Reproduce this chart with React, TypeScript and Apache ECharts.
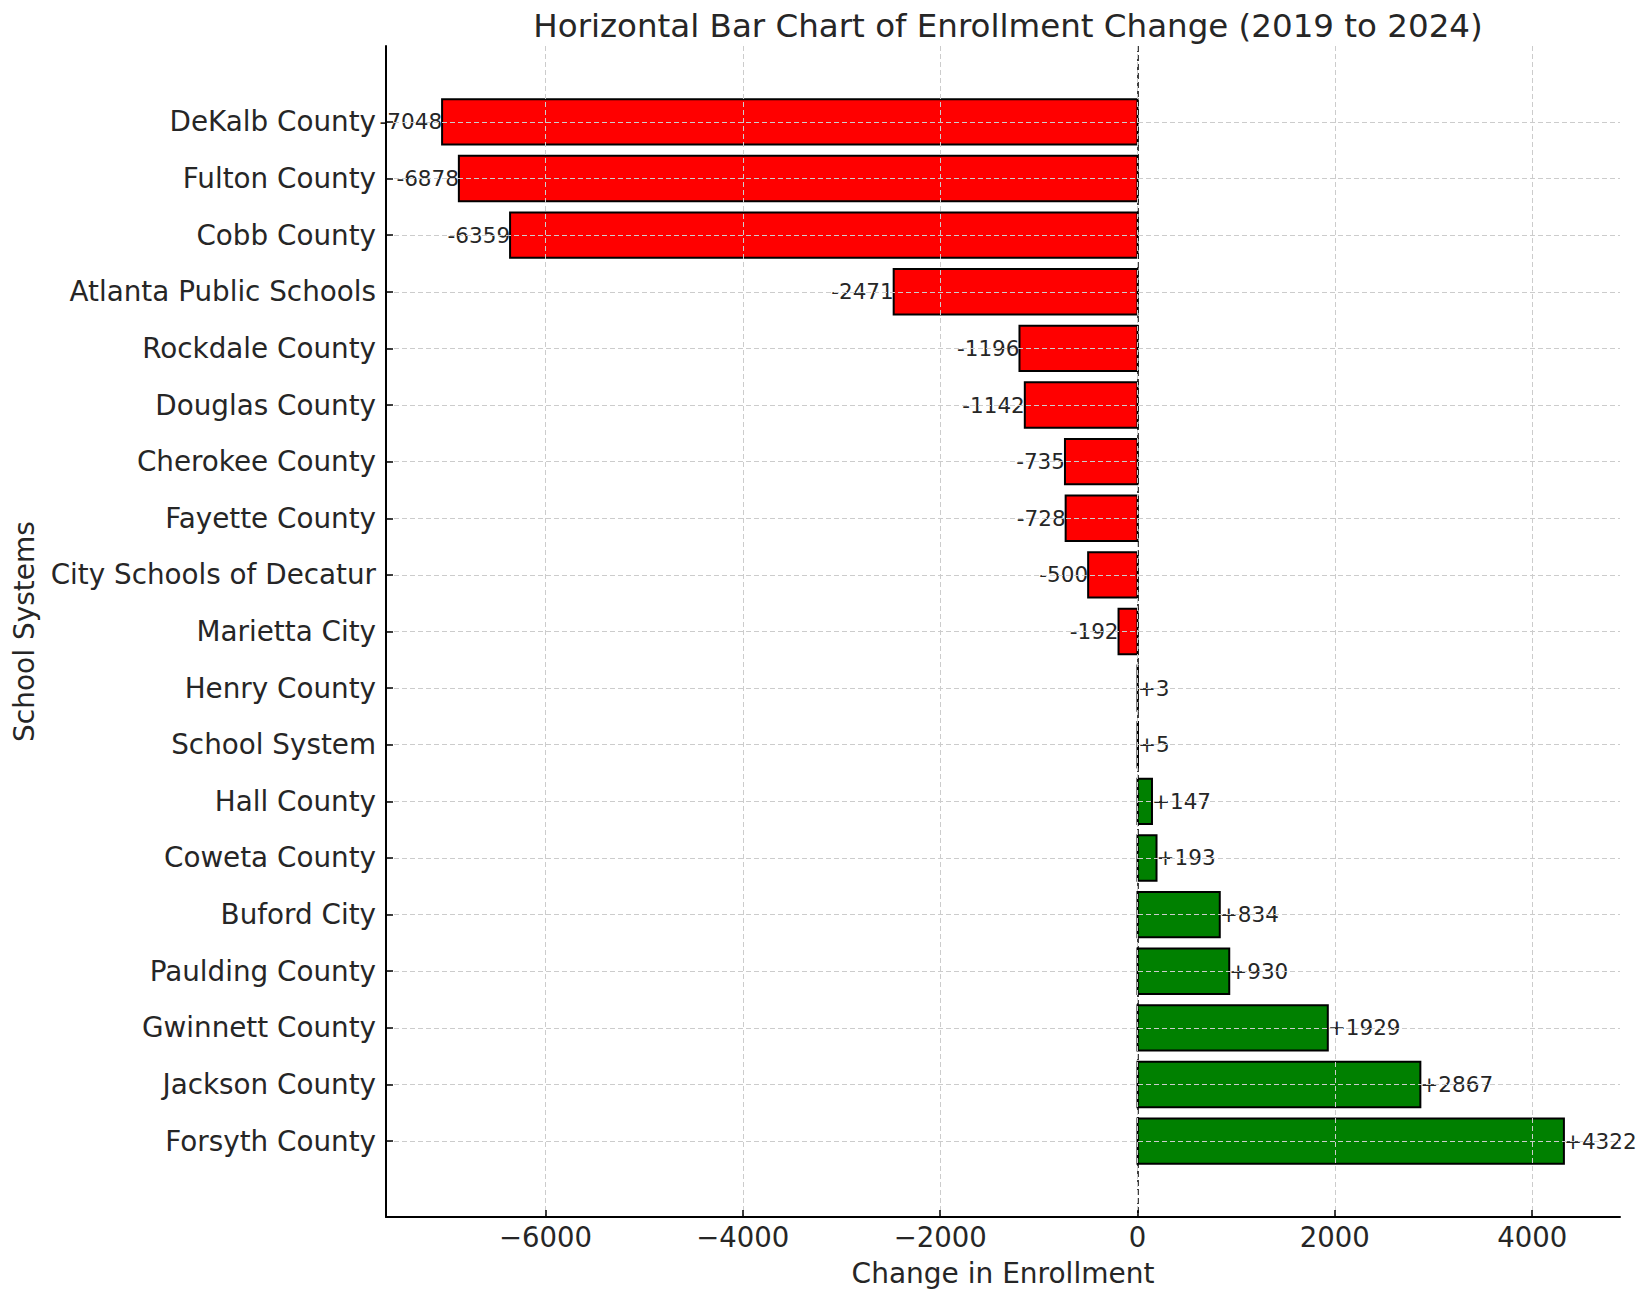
import React, { useEffect, useRef } from "react";
import * as echarts from "echarts";

const categories: string[] = [
  "DeKalb County",
  "Fulton County",
  "Cobb County",
  "Atlanta Public Schools",
  "Rockdale County",
  "Douglas County",
  "Cherokee County",
  "Fayette County",
  "City Schools of Decatur",
  "Marietta City",
  "Henry County",
  "School System",
  "Hall County",
  "Coweta County",
  "Buford City",
  "Paulding County",
  "Gwinnett County",
  "Jackson County",
  "Forsyth County",
];

const changes: number[] = [
  -7048, -6878, -6359, -2471, -1196, -1142, -735, -728, -500, -192, 3, 5, 147, 193, 834, 930, 1929, 2867, 4322,
];

const xTickValues: number[] = [-6000, -4000, -2000, 0, 2000, 4000];

const titleText = "Horizontal Bar Chart of Enrollment Change (2019 to 2024)";
const xAxisTitle = "Change in Enrollment";
const yAxisTitle = "School Systems";

const FONT = "DejaVu Sans";
const TEXT = "#262626";

export default function App() {
  const ref = useRef<HTMLDivElement>(null);

  useEffect(() => {
    document.body.style.margin = "0";
    if (!ref.current) return;
    const chart = echarts.init(ref.current, null, { renderer: "svg" });

    const dataMin = Math.min(...changes);
    const dataMax = Math.max(...changes);
    const span = dataMax - dataMin;
    const xMin = dataMin - span * 0.05;
    const xMax = dataMax + span * 0.05;
    const barH = 0.8;
    const ySpanLo = -barH / 2;
    const ySpanHi = categories.length - 1 + barH / 2;
    const ySpan = ySpanHi - ySpanLo;
    const yMin = ySpanLo - ySpan * 0.05;
    const yMax = ySpanHi + ySpan * 0.05;
    const yIdx = categories.map((_, i) => i);

    const option: any = {
      animation: false,
      backgroundColor: "#ffffff",
      title: {
        text: titleText,
        left: 1003,
        top: 4,
        textAlign: "center",
        textStyle: { fontFamily: FONT, fontSize: 32.5, fontWeight: "normal", color: TEXT },
      },
      grid: { left: 386, right: 32, top: 46, bottom: 71, containLabel: false },
      xAxis: {
        type: "value",
        min: xMin,
        max: xMax,
        z: 10,
        name: xAxisTitle,
        nameLocation: "middle",
        nameGap: 42,
        nameTextStyle: { fontFamily: FONT, fontSize: 28, color: TEXT },
        axisLine: { show: true, onZero: false, lineStyle: { color: "#000", width: 2 } },
        axisTick: {
          show: true,
          inside: true,
          length: 7,
          customValues: xTickValues,
          lineStyle: { color: "#000", width: 1.5 },
        },
        axisLabel: {
          customValues: xTickValues,
          margin: 6,
          fontFamily: FONT,
          fontSize: 27.5,
          color: TEXT,
          formatter: (v: number) => (v < 0 ? "\u2212" + Math.abs(v) : String(v)),
        },
        splitLine: { show: true, lineStyle: { color: "#cccccc", width: 1, type: [5, 3] } },
      },
      yAxis: {
        type: "value",
        min: yMin,
        max: yMax,
        inverse: true,
        z: 10,
        name: yAxisTitle,
        nameLocation: "middle",
        nameGap: 348,
        nameTextStyle: { fontFamily: FONT, fontSize: 28, color: TEXT },
        axisLine: { show: true, onZero: false, lineStyle: { color: "#000", width: 2 } },
        axisTick: {
          show: true,
          inside: true,
          length: 7,
          customValues: yIdx,
          lineStyle: { color: "#000", width: 1.5 },
        },
        axisLabel: {
          customValues: yIdx,
          margin: 10,
          fontFamily: FONT,
          fontSize: 27.8,
          color: TEXT,
          formatter: (v: number) => categories[Math.round(v)] ?? "",
        },
        splitLine: { show: true, lineStyle: { color: "#cccccc", width: 1, type: [5, 3] } },
      },
      series: [
        {
          type: "custom",
          z: 2,
          data: changes.map((v, i) => [v, i]),
          encode: { x: 0, y: 1 },
          renderItem: (params: any, api: any) => {
            const v = api.value(0);
            const i = api.value(1);
            const p0 = api.coord([0, i]);
            const p1 = api.coord([v, i]);
            const h = Math.abs(api.size([0, barH])[1]);
            const x = Math.min(p0[0], p1[0]);
            const w = Math.abs(p1[0] - p0[0]);
            return {
              type: "group",
              children: [
                {
                  type: "rect",
                  shape: { x, y: p0[1] - h / 2, width: w, height: h },
                  style: { fill: v < 0 ? "#ff0000" : "#008000", stroke: "#000", lineWidth: 2 },
                },
                {
                  type: "text",
                  x: p1[0],
                  y: p0[1],
                  z2: 20,
                  style: {
                    text: v > 0 ? "+" + v : String(v),
                    textAlign: v < 0 ? "right" : "left",
                    textVerticalAlign: "middle",
                    fontFamily: FONT,
                    fontSize: 21.5,
                    fill: TEXT,
                  },
                },
              ],
            };
          },
        },
        {
          type: "line",
          data: [],
          z: 12,
          markLine: {
            silent: true,
            symbol: "none",
            label: { show: false },
            lineStyle: { color: "#000", width: 1.5, type: [6, 3] },
            data: [{ xAxis: 0 }],
          },
        },
      ],
    };

    chart.setOption(option);
    return () => chart.dispose();
  }, []);

  return (
    <div
      ref={ref}
      style={{ position: "absolute", left: 0, top: 0, width: 1652, height: 1292 }}
    />
  );
}
